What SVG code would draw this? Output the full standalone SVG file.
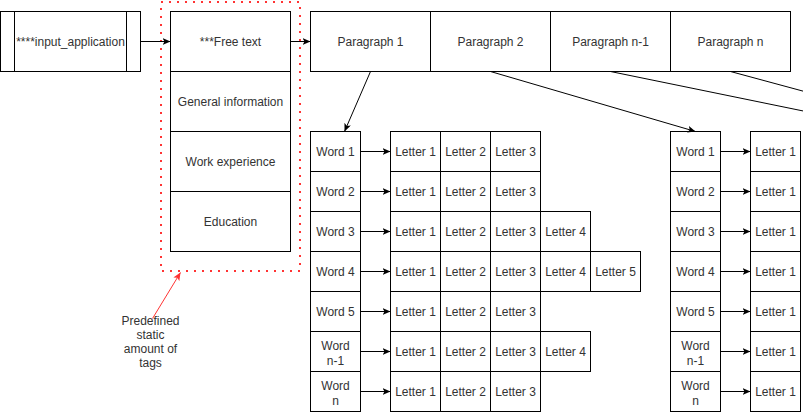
<svg xmlns="http://www.w3.org/2000/svg" width="803" height="412" viewBox="0 0 803 412">
<style>
.b{fill:#fff;stroke:#000;stroke-width:1}
.t{font-family:"Liberation Sans",Arial,Helvetica,sans-serif;font-size:12px;fill:#333;text-anchor:middle}
.c{fill:none;stroke:#000;stroke-width:1}
.r{fill:none;stroke:#FF3333;stroke-width:1}
.dot{fill:none;stroke:#FF3333;stroke-width:2;stroke-dasharray:2 6}
</style>
<defs>
<marker id="ah" viewBox="0 0 8 7" refX="8" refY="3.5" markerWidth="8" markerHeight="7" markerUnits="userSpaceOnUse" orient="auto"><path d="M0,0 L8,3.5 L0,7 L2,3.5 Z" fill="#000"/></marker>
<marker id="ahr" viewBox="0 0 8 7" refX="8" refY="3.5" markerWidth="8" markerHeight="7" markerUnits="userSpaceOnUse" orient="auto"><path d="M0,0 L8,3.5 L0,7 L2,3.5 Z" fill="#FF3333"/></marker>
</defs>
<rect width="803" height="412" fill="#fff"/>
<g id="tags-boundary"><rect class="dot" x="161" y="2" width="139" height="269"/></g>
<g transform="translate(0.5,0.5)">
<g id="input_application"><rect class="b" x="0" y="11" width="140" height="60"/><line class="c" x1="14" y1="11" x2="14" y2="71"/><line class="c" x1="126" y1="11" x2="126" y2="71"/><text class="t" x="70" y="45">****input_application</text></g>
<g id="free-text"><rect class="b" x="170" y="11" width="120" height="60"/><text class="t" x="230" y="45">***Free text</text></g>
<g id="general-information"><rect class="b" x="170" y="71" width="120" height="60"/><text class="t" x="230" y="105">General information</text></g>
<g id="work-experience"><rect class="b" x="170" y="131" width="120" height="60"/><text class="t" x="230" y="165">Work experience</text></g>
<g id="education"><rect class="b" x="170" y="191" width="120" height="60"/><text class="t" x="230" y="225">Education</text></g>
<g id="paragraph-1"><rect class="b" x="310" y="11" width="120" height="60"/><text class="t" x="370" y="45">Paragraph 1</text></g>
<g id="paragraph-2"><rect class="b" x="430" y="11" width="120" height="60"/><text class="t" x="490" y="45">Paragraph 2</text></g>
<g id="paragraph-n-1"><rect class="b" x="550" y="11" width="120" height="60"/><text class="t" x="610" y="45">Paragraph n-1</text></g>
<g id="paragraph-n"><rect class="b" x="670" y="11" width="120" height="60"/><text class="t" x="730" y="45">Paragraph n</text></g>
<g id="note"><text class="t" x="150" y="324">Predefined</text><text class="t" x="150" y="338">static</text><text class="t" x="150" y="352">amount of</text><text class="t" x="150" y="366">tags</text></g>

<g id="p1-word-1"><rect class="b" x="310" y="131" width="50" height="40"/><text class="t" x="335" y="155">Word 1</text></g>
<g id="p1-word-2"><rect class="b" x="310" y="171" width="50" height="40"/><text class="t" x="335" y="195">Word 2</text></g>
<g id="p1-word-3"><rect class="b" x="310" y="211" width="50" height="40"/><text class="t" x="335" y="235">Word 3</text></g>
<g id="p1-word-4"><rect class="b" x="310" y="251" width="50" height="40"/><text class="t" x="335" y="275">Word 4</text></g>
<g id="p1-word-5"><rect class="b" x="310" y="291" width="50" height="40"/><text class="t" x="335" y="315">Word 5</text></g>
<g id="p1-word-n-1"><rect class="b" x="310" y="331" width="50" height="40"/><text class="t" x="335" y="349">Word</text><text class="t" x="335" y="364">n-1</text></g>
<g id="p1-word-n"><rect class="b" x="310" y="371" width="50" height="40"/><text class="t" x="335" y="389">Word</text><text class="t" x="335" y="404">n</text></g>

<g id="p1-w1-letters"><rect class="b" x="390" y="131" width="50" height="40"/><rect class="b" x="440" y="131" width="50" height="40"/><rect class="b" x="490" y="131" width="50" height="40"/><text class="t" x="415" y="155">Letter 1</text><text class="t" x="465" y="155">Letter 2</text><text class="t" x="515" y="155">Letter 3</text></g>
<g id="p1-w2-letters"><rect class="b" x="390" y="171" width="50" height="40"/><rect class="b" x="440" y="171" width="50" height="40"/><rect class="b" x="490" y="171" width="50" height="40"/><text class="t" x="415" y="195">Letter 1</text><text class="t" x="465" y="195">Letter 2</text><text class="t" x="515" y="195">Letter 3</text></g>
<g id="p1-w3-letters"><rect class="b" x="390" y="211" width="50" height="40"/><rect class="b" x="440" y="211" width="50" height="40"/><rect class="b" x="490" y="211" width="50" height="40"/><rect class="b" x="540" y="211" width="50" height="40"/><text class="t" x="415" y="235">Letter 1</text><text class="t" x="465" y="235">Letter 2</text><text class="t" x="515" y="235">Letter 3</text><text class="t" x="565" y="235">Letter 4</text></g>
<g id="p1-w4-letters"><rect class="b" x="390" y="251" width="50" height="40"/><rect class="b" x="440" y="251" width="50" height="40"/><rect class="b" x="490" y="251" width="50" height="40"/><rect class="b" x="540" y="251" width="50" height="40"/><rect class="b" x="590" y="251" width="50" height="40"/><text class="t" x="415" y="275">Letter 1</text><text class="t" x="465" y="275">Letter 2</text><text class="t" x="515" y="275">Letter 3</text><text class="t" x="565" y="275">Letter 4</text><text class="t" x="615" y="275">Letter 5</text></g>
<g id="p1-w5-letters"><rect class="b" x="390" y="291" width="50" height="40"/><rect class="b" x="440" y="291" width="50" height="40"/><rect class="b" x="490" y="291" width="50" height="40"/><text class="t" x="415" y="315">Letter 1</text><text class="t" x="465" y="315">Letter 2</text><text class="t" x="515" y="315">Letter 3</text></g>
<g id="p1-wn-1-letters"><rect class="b" x="390" y="331" width="50" height="40"/><rect class="b" x="440" y="331" width="50" height="40"/><rect class="b" x="490" y="331" width="50" height="40"/><rect class="b" x="540" y="331" width="50" height="40"/><text class="t" x="415" y="355">Letter 1</text><text class="t" x="465" y="355">Letter 2</text><text class="t" x="515" y="355">Letter 3</text><text class="t" x="565" y="355">Letter 4</text></g>
<g id="p1-wn-letters"><rect class="b" x="390" y="371" width="50" height="40"/><rect class="b" x="440" y="371" width="50" height="40"/><rect class="b" x="490" y="371" width="50" height="40"/><text class="t" x="415" y="395">Letter 1</text><text class="t" x="465" y="395">Letter 2</text><text class="t" x="515" y="395">Letter 3</text></g>

<g id="p2-word-1"><rect class="b" x="670" y="131" width="50" height="40"/><text class="t" x="695" y="155">Word 1</text></g>
<g id="p2-word-2"><rect class="b" x="670" y="171" width="50" height="40"/><text class="t" x="695" y="195">Word 2</text></g>
<g id="p2-word-3"><rect class="b" x="670" y="211" width="50" height="40"/><text class="t" x="695" y="235">Word 3</text></g>
<g id="p2-word-4"><rect class="b" x="670" y="251" width="50" height="40"/><text class="t" x="695" y="275">Word 4</text></g>
<g id="p2-word-5"><rect class="b" x="670" y="291" width="50" height="40"/><text class="t" x="695" y="315">Word 5</text></g>
<g id="p2-word-n-1"><rect class="b" x="670" y="331" width="50" height="40"/><text class="t" x="695" y="349">Word</text><text class="t" x="695" y="364">n-1</text></g>
<g id="p2-word-n"><rect class="b" x="670" y="371" width="50" height="40"/><text class="t" x="695" y="389">Word</text><text class="t" x="695" y="404">n</text></g>
<g id="p2-letters">
<rect class="b" x="750" y="131" width="50" height="40"/><text class="t" x="775" y="155">Letter 1</text>
<rect class="b" x="750" y="171" width="50" height="40"/><text class="t" x="775" y="195">Letter 1</text>
<rect class="b" x="750" y="211" width="50" height="40"/><text class="t" x="775" y="235">Letter 1</text>
<rect class="b" x="750" y="251" width="50" height="40"/><text class="t" x="775" y="275">Letter 1</text>
<rect class="b" x="750" y="291" width="50" height="40"/><text class="t" x="775" y="315">Letter 1</text>
<rect class="b" x="750" y="331" width="50" height="40"/><text class="t" x="775" y="355">Letter 1</text>
<rect class="b" x="750" y="371" width="50" height="40"/><text class="t" x="775" y="395">Letter 1</text>
</g>

<g id="connectors">
<line class="c" x1="140" y1="41" x2="170" y2="41" marker-end="url(#ah)"/>
<line class="c" x1="290" y1="41" x2="310" y2="41" marker-end="url(#ah)"/>
<line class="c" x1="370" y1="71" x2="344" y2="131" marker-end="url(#ah)"/>
<line class="c" x1="490" y1="71" x2="695" y2="131" marker-end="url(#ah)"/>
<line class="c" x1="610" y1="71" x2="815" y2="113"/>
<line class="c" x1="730" y1="71" x2="815" y2="94"/>
<line class="c" x1="360" y1="151" x2="390" y2="151" marker-end="url(#ah)"/>
<line class="c" x1="360" y1="191" x2="390" y2="191" marker-end="url(#ah)"/>
<line class="c" x1="360" y1="231" x2="390" y2="231" marker-end="url(#ah)"/>
<line class="c" x1="360" y1="271" x2="390" y2="271" marker-end="url(#ah)"/>
<line class="c" x1="360" y1="311" x2="390" y2="311" marker-end="url(#ah)"/>
<line class="c" x1="360" y1="351" x2="390" y2="351" marker-end="url(#ah)"/>
<line class="c" x1="360" y1="391" x2="390" y2="391" marker-end="url(#ah)"/>
<line class="c" x1="720" y1="151" x2="750" y2="151" marker-end="url(#ah)"/>
<line class="c" x1="720" y1="191" x2="750" y2="191" marker-end="url(#ah)"/>
<line class="c" x1="720" y1="231" x2="750" y2="231" marker-end="url(#ah)"/>
<line class="c" x1="720" y1="271" x2="750" y2="271" marker-end="url(#ah)"/>
<line class="c" x1="720" y1="311" x2="750" y2="311" marker-end="url(#ah)"/>
<line class="c" x1="720" y1="351" x2="750" y2="351" marker-end="url(#ah)"/>
<line class="c" x1="720" y1="391" x2="750" y2="391" marker-end="url(#ah)"/>
<line class="r" x1="152" y1="318" x2="180" y2="272" marker-end="url(#ahr)"/>
</g>
</g>
</svg>
